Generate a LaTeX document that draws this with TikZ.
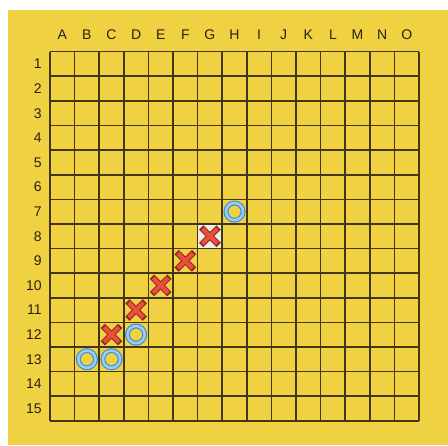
\documentclass[tikz,border=0pt]{standalone}
\usepackage{fontspec}
\setmainfont{Liberation Sans}
\usepackage{xcolor}
\usepackage{tikz}
\usetikzlibrary{positioning}

\definecolor{boardyellow}{RGB}{240,209,66}
\definecolor{gridline}{RGB}{66,54,20}
\definecolor{labeltext}{RGB}{40,34,18}
\definecolor{xred}{RGB}{236,78,60}
\definecolor{xdark}{RGB}{150,42,30}
\definecolor{oblue}{RGB}{150,205,242}
\definecolor{odark}{RGB}{62,135,205}
\definecolor{lastmove}{RGB}{238,238,236}

\begin{document}
\begin{tikzpicture}[
  x=0.75pt, y=-0.75pt,
  collabel/.style={font=\fontsize{10.5}{12}\selectfont, text=labeltext, inner sep=0pt},
  rowlabel/.style={font=\fontsize{10.5}{12}\selectfont, text=labeltext, inner sep=0pt, anchor=east},
  gridln/.style={draw=gridline, line width=1.2pt},
  xmark/.pic={
    \draw[xdark, line width=4.6pt, line cap=rect] (-6.6,-6.6) -- (6.6,6.6) (-6.6,6.6) -- (6.6,-6.6);
    \draw[xred, line width=3.0pt, line cap=rect] (-6.0,-6.0) -- (6.0,6.0) (-6.0,6.0) -- (6.0,-6.0);
  },
  omark/.pic={
    \draw[odark, line width=3.6pt] (0,0) circle (8.6);
    \draw[oblue, line width=2.0pt] (0,0) circle (8.6);
  },
]
\def\cell{24.6}
\def\gx{50}
\def\gy{51.7}

% Background
\useasboundingbox (0,0) rectangle (448,445);
\fill[white] (0,0) rectangle (448,445);
\fill[boardyellow] (8,10) rectangle (448,445);

% Last move
\fill[lastmove] ({\gx+6*\cell},{\gy+7*\cell}) rectangle ++(\cell,\cell);

% Grid
\foreach \i in {0,...,15} {
  \draw[gridln] ({\gx+\i*\cell},\gy) -- ++(0,{15*\cell});
  \draw[gridln] (\gx,{\gy+\i*\cell}) -- ++({15*\cell},0);
}

% Column letters
\foreach \c [count=\i from 0] in {A,B,C,D,E,F,G,H,I,J,K,L,M,N,O}
  \node[collabel] (col-\c) at ({\gx+(\i+0.5)*\cell},35) {\c};

% Row numbers
\foreach \r in {1,...,15}
  \node[rowlabel] (row-\r) at (42,{\gy+(\r-0.5)*\cell}) {\r};

% Crosses
\foreach \c/\r in {7/8,6/9,5/10,4/11,3/12}
  \pic at ({\gx+(\c-0.5)*\cell},{\gy+(\r-0.5)*\cell}) {xmark};

% Rings
\foreach \c/\r in {8/7,4/12,2/13,3/13}
  \pic at ({\gx+(\c-0.5)*\cell},{\gy+(\r-0.5)*\cell}) {omark};

\end{tikzpicture}
\end{document}
